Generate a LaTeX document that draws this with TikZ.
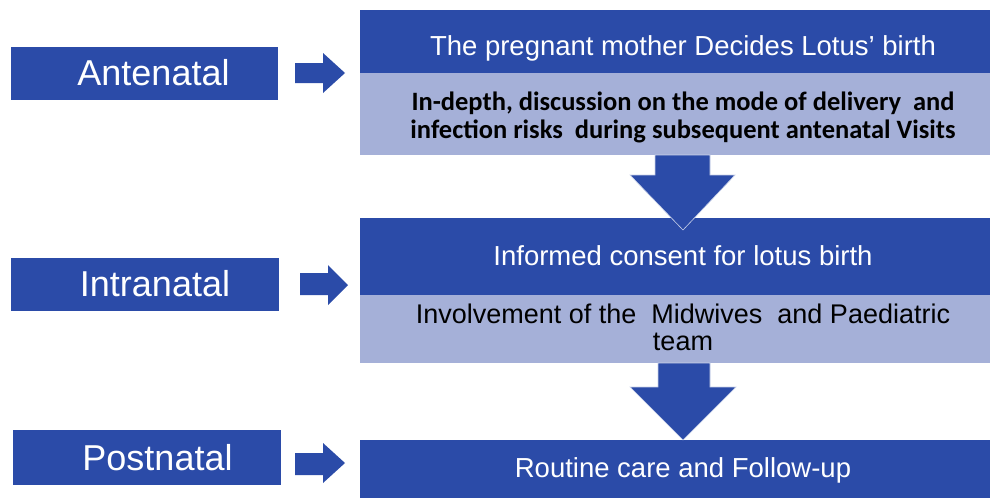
\documentclass[tikz,border=0pt]{standalone}
\usepackage{fontspec}
\setmainfont{Liberation Sans}
\newfontfamily\calib{Carlito}
\definecolor{dblue}{RGB}{43,75,168}
\definecolor{lblue}{RGB}{165,176,216}
\begin{document}
\begin{tikzpicture}[x=1pt,y=-1pt,
  dbox/.style={fill=dblue,draw=none,inner sep=0pt,rectangle},
  lbox/.style={fill=lblue,draw=none,inner sep=0pt,rectangle},
  side/.style={text=white,font=\fontsize{36}{40}\selectfont,inner sep=0pt,anchor=base},
  wtxt/.style={text=white,font=\fontsize{27.5}{30}\selectfont,inner sep=0pt,anchor=base},
  btxt/.style={text=black,font=\fontsize{27}{27}\selectfont,inner sep=0pt,anchor=base},
  ctxt/.style={text=black,font=\calib\bfseries\fontsize{26.5}{26.5}\selectfont,inner sep=0pt,anchor=base},
  blockarrow/.style={fill=dblue,draw=white!75!dblue,line width=0.6pt}]
\useasboundingbox (0,0) rectangle (991,498);
\fill[white] (0,0) rectangle (991,498);
% left labels
\node[dbox,minimum width=267pt,minimum height=53pt] (ante) at (144.5,73.5) {};
\node[dbox,minimum width=268pt,minimum height=53pt] (intra) at (145,284.5) {};
\node[dbox,minimum width=268pt,minimum height=55pt] (post) at (147,457.5) {};
\node[side] (anteT) at (153.5,85) {Antenatal};
\node[side] (intraT) at (155,296) {Intranatal};
\node[side] (postT) at (157.5,470) {Postnatal};
% right boxes
\node[dbox,minimum width=630pt,minimum height=63pt] (d1) at (675,41.5) {};
\node[lbox,minimum width=630pt,minimum height=82pt] (l1) at (675,114) {};
\node[dbox,minimum width=630pt,minimum height=77pt] (d2) at (675,256.5) {};
\node[lbox,minimum width=630pt,minimum height=68pt] (l2) at (675,329) {};
\node[dbox,minimum width=630pt,minimum height=60pt] (d3) at (675,470) {};
% texts
\node[wtxt] (t1) at (683,55) {The pregnant mother Decides Lotus’ birth};
\node[ctxt] (t2) at (683,110) {In-depth, discussion on the mode of delivery\ \ and};
\node[ctxt] (t3) at (683,138) {infection risks\ \ during subsequent antenatal Visits};
\node[wtxt] (t4) at (683,265) {Informed consent for lotus birth};
\node[btxt] (t5) at (683,323) {Involvement of the\ \ Midwives\ \ and Paediatric};
\node[btxt] (t6) at (683,350) {team};
\node[wtxt] (t7) at (683,477) {Routine care and Follow-up};
% right block arrows
\fill[dblue] (295,63) -- (323,63) -- (323,53) -- (345,73) -- (323,93) -- (323,83) -- (295,83) -- cycle;
\fill[dblue] (300,273) -- (328,273) -- (328,265) -- (348,285) -- (328,305) -- (328,295) -- (300,295) -- cycle;
\fill[dblue] (295,453) -- (323,453) -- (323,443) -- (345,463) -- (323,483) -- (323,475) -- (295,475) -- cycle;
% down block arrows
\draw[blockarrow] (655,155) -- (710,155) -- (710,175) -- (735,175) -- (683,230) -- (630,175) -- (655,175) -- cycle;
\draw[blockarrow] (658,363) -- (710,363) -- (710,387) -- (736,387) -- (683,440) -- (630,387) -- (658,387) -- cycle;
\end{tikzpicture}
\end{document}
